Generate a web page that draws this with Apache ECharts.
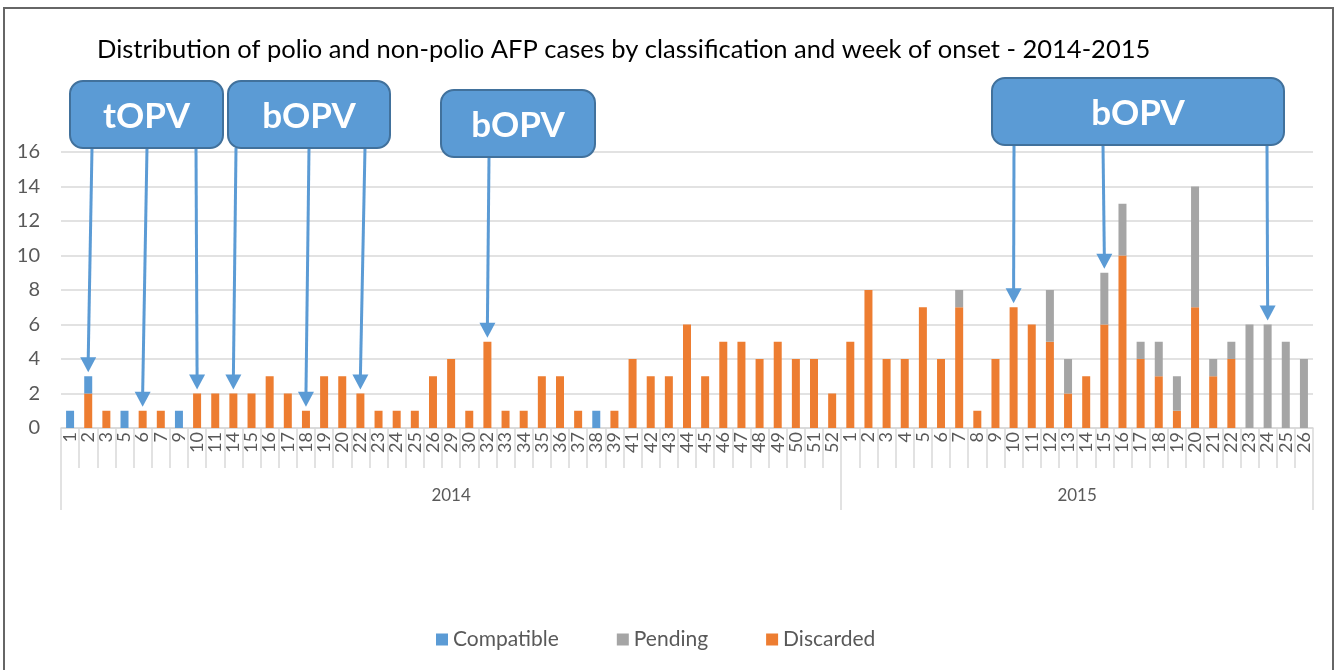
<!DOCTYPE html>
<html>
<head>
<meta charset="utf-8">
<script src="https://cdn.jsdelivr.net/npm/echarts@6/dist/echarts.min.js"></script>
<style>
  html, body { margin: 0; padding: 0; background: #fff; }
  #main { width: 1336px; height: 670px; }
</style>
</head>
<body>
<div id="main"></div>
<script>
// week-of-onset categories
var weeks2014 = [1,2,3,5,6,7,9,10,11,14,15,16,17,18,19,20,22,23,24,25,26,29,30,32,33,34,35,36,37,38,39,41,42,43,44,45,46,47,48,49,50,51,52];
var weeks2015 = [1,2,3,4,5,6,7,8,9,10,11,12,13,14,15,16,17,18,19,20,21,22,23,24,25,26];
var years = ['2014', '2015'];

// cases per week
var discarded2014  = [0,2,1,0,1,1,0,2,2,2,2,3,2,1,3,3,2,1,1,1,3,4,1,5,1,1,3,3,1,0,1,4,3,3,6,3,5,5,4,5,4,4,2];
var pending2014    = [0,0,0,0,0,0,0,0,0,0,0,0,0,0,0,0,0,0,0,0,0,0,0,0,0,0,0,0,0,0,0,0,0,0,0,0,0,0,0,0,0,0,0];
var compatible2014 = [1,1,0,1,0,0,1,0,0,0,0,0,0,0,0,0,0,0,0,0,0,0,0,0,0,0,0,0,0,1,0,0,0,0,0,0,0,0,0,0,0,0,0];

var discarded2015  = [5,8,4,4,7,4,7,1,4,7,6,5,2,3,6,10,4,3,1,7,3,4,0,0,0,0];
var pending2015    = [0,0,0,0,0,0,1,0,0,0,0,3,2,0,3,3,1,2,2,7,1,1,6,6,5,4];
var compatible2015 = [0,0,0,0,0,0,0,0,0,0,0,0,0,0,0,0,0,0,0,0,0,0,0,0,0,0];

var yTicks = [0, 2, 4, 6, 8, 10, 12, 14, 16];

var categories = weeks2014.concat(weeks2015).map(String);
var discarded = discarded2014.concat(discarded2015);
var pending = pending2014.concat(pending2015);
var compatible = compatible2014.concat(compatible2015);

// vaccination campaign callouts: box and the weeks their arrows point at
var callouts = [
  { text: 'tOPV', x: 70,  y: 81, w: 153, h: 67, arrows: [{ from: 92, year: 2014, week: 2 }, { from: 147, year: 2014, week: 6 }, { from: 196, year: 2014, week: 10 }] },
  { text: 'bOPV', x: 228, y: 81, w: 162, h: 67, arrows: [{ from: 236, year: 2014, week: 14 }, { from: 309, year: 2014, week: 18 }, { from: 365, year: 2014, week: 22 }] },
  { text: 'bOPV', x: 441, y: 90, w: 154, h: 67, arrows: [{ from: 489, year: 2014, week: 32 }] },
  { text: 'bOPV', x: 992, y: 78, w: 292, h: 67, arrows: [{ from: 1014, year: 2015, week: 10 }, { from: 1103, year: 2015, week: 15 }, { from: 1267, year: 2015, week: 24 }] }
];

var FONT = 'Lato, "Open Sans", sans-serif';
var GREY_TXT = '#595959';
var LINE = '#d9d9d9';

var myChart = echarts.init(document.getElementById('main'));

var option = {
  backgroundColor: '#fff',
  animation: false,
  textStyle: { fontFamily: FONT },
  title: {
    text: 'Distribution of polio and non-polio AFP cases by classification and week of onset - 2014-2015',
    left: 92,
    top: 32,
    textStyle: { fontFamily: FONT, fontSize: 25.5, fontWeight: 'normal', color: '#000' }
  },
  legend: {
    data: ['Compatible', 'Pending', 'Discarded'],
    left: 431,
    top: 624,
    icon: 'rect',
    itemWidth: 12,
    itemHeight: 12,
    itemGap: 58,
    textStyle: { fontFamily: FONT, fontSize: 21, color: GREY_TXT }
  },
  grid: {
    left: 61,
    right: 23,
    top: 152,
    bottom: 242,
    outerBoundsMode: 'none'
  },
  xAxis: [
    {
      type: 'category',
      data: categories,
      axisLine: { lineStyle: { color: LINE, width: 1.5 } },
      axisTick: { show: true, length: 40, lineStyle: { color: LINE, width: 1.5 } },
      axisLabel: {
        rotate: 90,
        interval: 0,
        margin: 4,
        fontFamily: FONT,
        fontSize: 18,
        color: GREY_TXT
      }
    },
    {
      type: 'value',
      min: 0,
      max: categories.length,
      position: 'bottom',
      axisLine: { show: false },
      splitLine: { show: false },
      axisTick: {
        show: true,
        length: 82,
        customValues: [0, weeks2014.length, categories.length],
        lineStyle: { color: LINE, width: 1.5 }
      },
      axisLabel: {
        margin: 59,
        customValues: [weeks2014.length / 2, weeks2014.length + weeks2015.length / 2],
        formatter: function (v) { return v < weeks2014.length ? years[0] : years[1]; },
        fontFamily: FONT,
        fontSize: 17,
        color: GREY_TXT
      }
    }
  ],
  yAxis: {
    type: 'value',
    min: yTicks[0],
    max: yTicks[yTicks.length - 1],
    interval: 2,
    axisLine: { show: false },
    axisTick: { show: false },
    splitLine: { lineStyle: { color: LINE, width: 1.5 } },
    axisLabel: { fontFamily: FONT, fontSize: 20, color: GREY_TXT, margin: 21 }
  },
  series: [
    { name: 'Discarded', type: 'bar', stack: 'cases', barWidth: 8, data: discarded, itemStyle: { color: '#ed7d31' } },
    { name: 'Pending', type: 'bar', stack: 'cases', barWidth: 8, data: pending, itemStyle: { color: '#a5a5a5' } },
    { name: 'Compatible', type: 'bar', stack: 'cases', barWidth: 8, data: compatible, itemStyle: { color: '#5b9bd5' } }
  ]
};

myChart.setOption(option);

// arrows + boxes, arrow tips placed at the top of the targeted bar
function catIndex(year, week) {
  return year === 2014 ? weeks2014.indexOf(week) : weeks2014.length + weeks2015.indexOf(week);
}

var graphics = [{
  type: 'rect',
  silent: true,
  shape: { x: 4, y: 8, width: 1329, height: 720 },
  style: { fill: 'none', stroke: '#666', lineWidth: 2 },
  z: 1
}];

callouts.forEach(function (c) {
  c.arrows.forEach(function (a) {
    var i = catIndex(a.year, a.week);
    var total = discarded[i] + pending[i] + compatible[i];
    var tip = myChart.convertToPixel({ xAxisIndex: 0, yAxisIndex: 0 }, [i, total]);
    var ex = tip[0], ey = tip[1] - 4;
    graphics.push({
      type: 'line',
      silent: true,
      shape: { x1: a.from, y1: c.y + c.h, x2: ex, y2: ey - 13 },
      style: { stroke: '#5b9bd5', lineWidth: 3 },
      z: 10
    });
    graphics.push({
      type: 'polygon',
      silent: true,
      shape: { points: [[ex - 8, ey - 15], [ex + 8, ey - 15], [ex, ey]] },
      style: { fill: '#5b9bd5' },
      z: 10
    });
  });
  graphics.push({
    type: 'rect',
    silent: true,
    shape: { x: c.x, y: c.y, width: c.w, height: c.h, r: 13 },
    style: { fill: '#5b9bd5', stroke: '#41719c', lineWidth: 2 },
    z: 11
  });
  graphics.push({
    type: 'text',
    silent: true,
    style: {
      text: c.text,
      x: c.x + c.w / 2,
      y: c.y + c.h / 2 + 2,
      align: 'center',
      verticalAlign: 'middle',
      textAlign: 'center',
      textVerticalAlign: 'middle',
      fontFamily: FONT,
      fontSize: 35,
      fontWeight: 'bold',
      fill: '#fff'
    },
    z: 12
  });
});

myChart.setOption({ graphic: graphics });
</script>
</body>
</html>
